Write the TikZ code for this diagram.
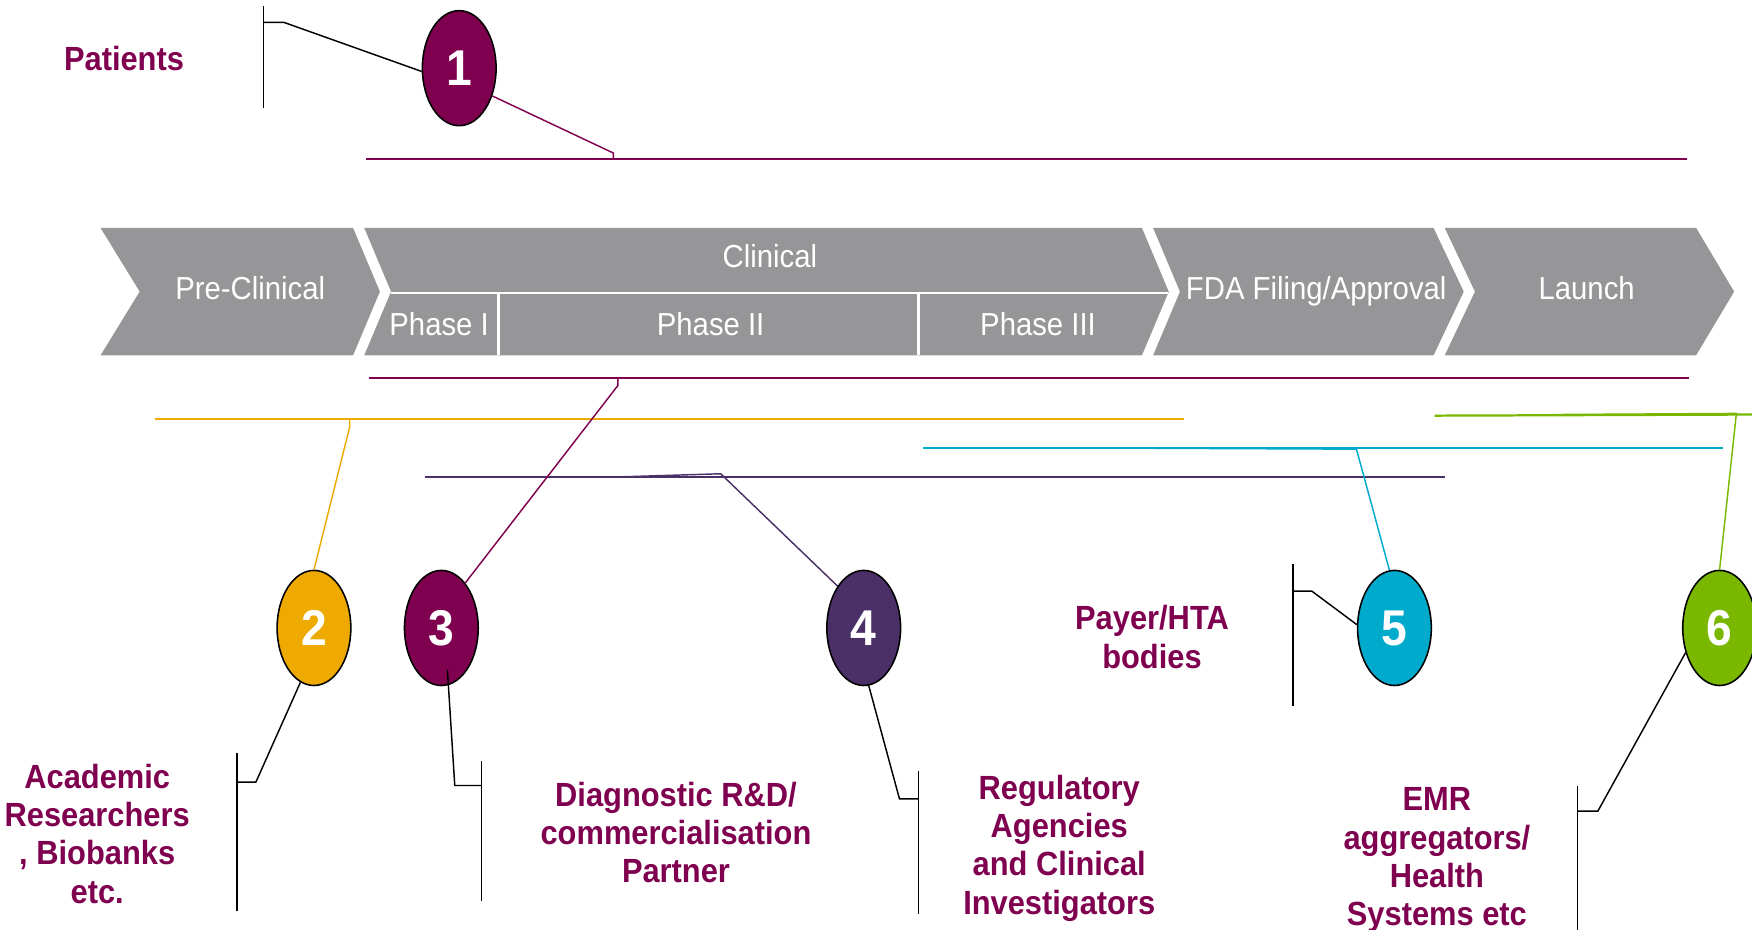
\documentclass[tikz,border=0pt]{standalone}
\usepackage{fontspec}
\setmainfont{Liberation Sans}
\newfontfamily\narrowfont[FakeStretch=0.92]{Liberation Sans}
\usetikzlibrary{shapes.geometric}

\definecolor{cPlum}{RGB}{128,0,80}
\definecolor{cAmber}{RGB}{238,170,0}
\definecolor{cViolet}{RGB}{75,48,104}
\definecolor{cSky}{RGB}{0,170,204}
\definecolor{cLeaf}{RGB}{122,184,0}
\definecolor{cBand}{RGB}{150,150,152}

\tikzset{
  badge/.style={ellipse, draw=black, line width=1.4pt, minimum width=66pt,
    minimum height=103pt, inner sep=0pt, text=white,
    font=\narrowfont\bfseries\fontsize{45}{45}\selectfont},
  who/.style={text=cPlum, align=center, inner sep=0pt,
    font=\narrowfont\bfseries\fontsize{30}{34.3}\selectfont},
  stagetext/.style={text=white, inner sep=0pt, anchor=base,
    font=\narrowfont\fontsize{28.5}{28.5}\selectfont},
  lead/.style={draw=black, line width=1.3pt},
  rail/.style={line width=2pt},
  link/.style={line width=1.3pt},
}

\begin{document}
\begin{tikzpicture}[x=1pt,y=-1pt]
\useasboundingbox (0,0) rectangle (1568,832);

% ---- stage band ----
\fill[cBand] (90,204) -- (316,204) -- (340,261) -- (316,318) -- (90,318) -- (125,261) -- cycle;
\fill[cBand] (326,204) -- (1022,204) -- (1046,261) -- (1022,318) -- (326,318) -- (350,261) -- cycle;
\fill[cBand] (1032,204) -- (1283,204) -- (1310,261) -- (1283,318) -- (1032,318) -- (1056,261) -- cycle;
\fill[cBand] (1293,204) -- (1518,204) -- (1552,261) -- (1518,318) -- (1293,318) -- (1320,261) -- cycle;
% dividers inside the clinical stage
\draw[white, line width=2.2pt] (350,262) -- (1045,262);
\draw[white, line width=2.2pt] (446,262) -- (446,318);
\draw[white, line width=2.2pt] (822,262) -- (822,318);

\node[stagetext] (preclin) at (224,268) {Pre-Clinical};
\node[stagetext] (clin) at (689,239) {Clinical};
\node[stagetext] (ph1) at (393,300) {Phase I};
\node[stagetext] (ph2) at (636,300) {Phase II};
\node[stagetext] (ph3) at (929,300) {Phase III};
\node[stagetext] (fda) at (1178,268) {FDA Filing/Approval};
\node[stagetext] (launch) at (1420,268) {Launch};

% ---- span rails ----
\coordinate (r1a) at (328,142);  \coordinate (r1b) at (1510,142);
\coordinate (r3a) at (330,338);  \coordinate (r3b) at (1512,338);
\coordinate (r2a) at (139,375);  \coordinate (r2b) at (1060,375);
\coordinate (r5a) at (826,401);  \coordinate (r5b) at (1542,401);
\coordinate (r4a) at (380,427);  \coordinate (r4b) at (1293,427);
\coordinate (r6a) at (1284,372); \coordinate (r6b) at (1570,371);
\draw[rail, cPlum] (r1a) -- (r1b);
\draw[rail, cPlum] (r3a) -- (r3b);
\draw[rail, cAmber] (r2a) -- (r2b);
\draw[rail, cSky] (r5a) -- (r5b);
\draw[rail, cViolet] (r4a) -- (r4b);
\draw[rail, cLeaf] (r6a) -- (r6b);

% junctions on the rails
\coordinate (j1) at (549,142);
\coordinate (j2) at (313,375);
\coordinate (j3) at (553,338);
\coordinate (j4) at (645,424);
\coordinate (j5) at (1214,402);
\coordinate (j6) at (1554,370);

% ---- stakeholder badges ----
\node[badge, fill=cPlum]   (b1) at (411,61)   {1};
\node[badge, fill=cAmber]  (b2) at (281,562)  {2};
\node[badge, fill=cPlum]   (b3) at (395,562)  {3};
\node[badge, fill=cViolet] (b4) at (773,562)  {4};
\node[badge, fill=cSky]    (b5) at (1248,562) {5};
\node[badge, fill=cLeaf]   (b6) at (1539,562) {6};

% badge-to-rail links
\draw[link, cPlum] (b1.320) -- ([yshift=5pt]j1) -- (j1);
\draw[link, cAmber] (j2) -- ([yshift=-7pt]j2) -- (b2.north);
\draw[link, cPlum] (j3) -- ([yshift=-7pt]j3) -- (b3.62);
\draw[link, cViolet] (548,427) -- (j4) -- (b4.122);
\draw[link, cSky] (990,401) -- (j5) -- (b5.95);
\draw[link, cLeaf] (1390,371) -- (j6) -- (b6.north);

% ---- stakeholder labels ----
\node[who] (pat) at (111,52) {Patients};
\node[who] (acad) at (87,746) {Academic\\Researchers\\, Biobanks\\etc.};
\node[who] (diag) at (605,745) {Diagnostic R\&D/\\commercialisation\\Partner};
\node[who] (reg) at (948,759) {Regulatory\\Agencies\\and Clinical\\Investigators};
\node[who] (payer) at (1031,570) {Payer/HTA\\bodies};
\node[who] (emr) at (1286,770) {EMR\\aggregators/\\Health\\Systems etc};

% ---- label brackets ----
\coordinate (k1) at (236,20);
\draw[lead] (236,5) -- (236,97);
\draw[lead] (k1) -- ([xshift=18pt]k1) -- (b1.185);

\coordinate (k2) at (212,700);
\draw[lead] (212,674) -- (212,815);
\draw[lead] (b2.256) -- ([xshift=17pt]k2) -- (k2);

\coordinate (k3) at (431,703);
\draw[lead] (431,681) -- (431,806);
\draw[lead] ([yshift=14pt]b3.276) -- ([xshift=-24pt]k3) -- (k3);

\coordinate (k4) at (822,715);
\draw[lead] (822,690) -- (822,818);
\draw[lead] (b4.275) -- ([xshift=-17pt]k4) -- (k4);

\coordinate (k5) at (1157,529);
\draw[lead] (1157,505) -- (1157,632);
\draw[lead] (k5) -- ([xshift=17pt]k5) -- (b5.175);

\coordinate (k6) at (1412,726);
\draw[lead] (1412,703) -- (1412,835);
\draw[lead] (b6.216) -- ([xshift=18pt]k6) -- (k6);
\end{tikzpicture}
\end{document}
